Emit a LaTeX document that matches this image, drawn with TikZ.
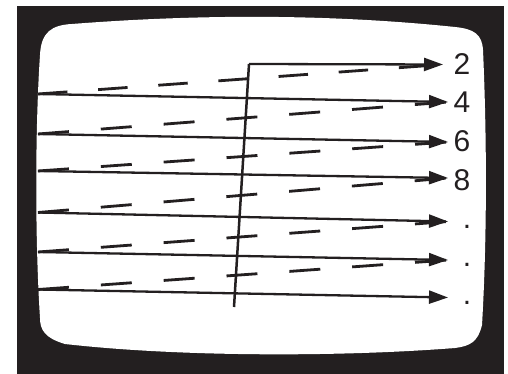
\documentclass[tikz,border=0pt]{standalone}
\usepackage{fontspec}
\setmainfont{Liberation Sans}
\usetikzlibrary{arrows.meta}
\definecolor{ink}{RGB}{35,31,32}
\tikzset{
  scan/.style={draw=ink,line width=2.3pt,-{Triangle[length=19pt,width=13pt]}},
  retrace/.style={draw=ink,line width=2.8pt,dash pattern=on 31pt off 32pt},
  retraceA/.style={draw=ink,line width=2.8pt,dash pattern=on 29.5pt off 30.8pt},
  vert/.style={draw=ink,line width=2.5pt},
  lbl/.style={inner sep=0pt,anchor=base,text=ink,font=\fontsize{30}{36}\selectfont}
}
\begin{document}
\begin{tikzpicture}[x=1pt,y=-1pt]
\useasboundingbox (0,0) rectangle (508,374);
% frame
\fill[ink] (17,6) rectangle (504,374);
% screen
\fill[white] (40,318) .. controls (35,240) and (35,130) .. (40,55)
  .. controls (41,32) and (52,25) .. (72,24)
  .. controls (200,14) and (330,14) .. (455,27)
  .. controls (475,29) and (482,35) .. (483,50)
  .. controls (487,140) and (487,240) .. (482,325)
  .. controls (478,342) and (470,346) .. (455,348)
  .. controls (340,357) and (180,357) .. (65,344)
  .. controls (45,338) and (40,330) .. (40,318) -- cycle;
% coordinates
\coordinate (v0) at (234,307);
\coordinate (s1) at (249,64);
\coordinate (e1) at (443,64.5);
\coordinate (s2) at (38,94);    \coordinate (e2) at (448,102);
\coordinate (s3) at (38,134);   \coordinate (e3) at (448,142);
\coordinate (s4) at (38,171);   \coordinate (e4) at (448,178);
\coordinate (s5) at (38,212.5); \coordinate (e5) at (448,221.5);
\coordinate (s6) at (38,252);   \coordinate (e6) at (448,260);
\coordinate (s7) at (38,289.5); \coordinate (e7) at (448,297.5);
% retrace dashed lines
\draw[retraceA] (s2) -- (e1);
\draw[retrace] (s3) -- (e2);
\draw[retrace] (s4) -- (e3);
\draw[retrace] (s5) -- (e4);
\draw[retrace] (s6) -- (e5);
\draw[retrace] (s7) -- (e6);
% vertical retrace + first line
\draw[vert] (v0) -- (s1);
\draw[scan] (s1) -- (e1);
\draw[scan] (s2) -- (e2);
\draw[scan] (s3) -- (e3);
\draw[scan] (s4) -- (e4);
\draw[scan] (s5) -- (e5);
\draw[scan] (s6) -- (e6);
\draw[scan] (s7) -- (e7);
% labels
\node[lbl] (t2) at (462,75) {2};
\node[lbl] (t4) at (462,113) {4};
\node[lbl] (t6) at (462,152) {6};
\node[lbl] (t8) at (462,190) {8};
\node[lbl] (d1) at (467,228) {.};
\node[lbl] (d2) at (467,266.5) {.};
\node[lbl] (d3) at (467,304.5) {.};
\end{tikzpicture}
\end{document}
